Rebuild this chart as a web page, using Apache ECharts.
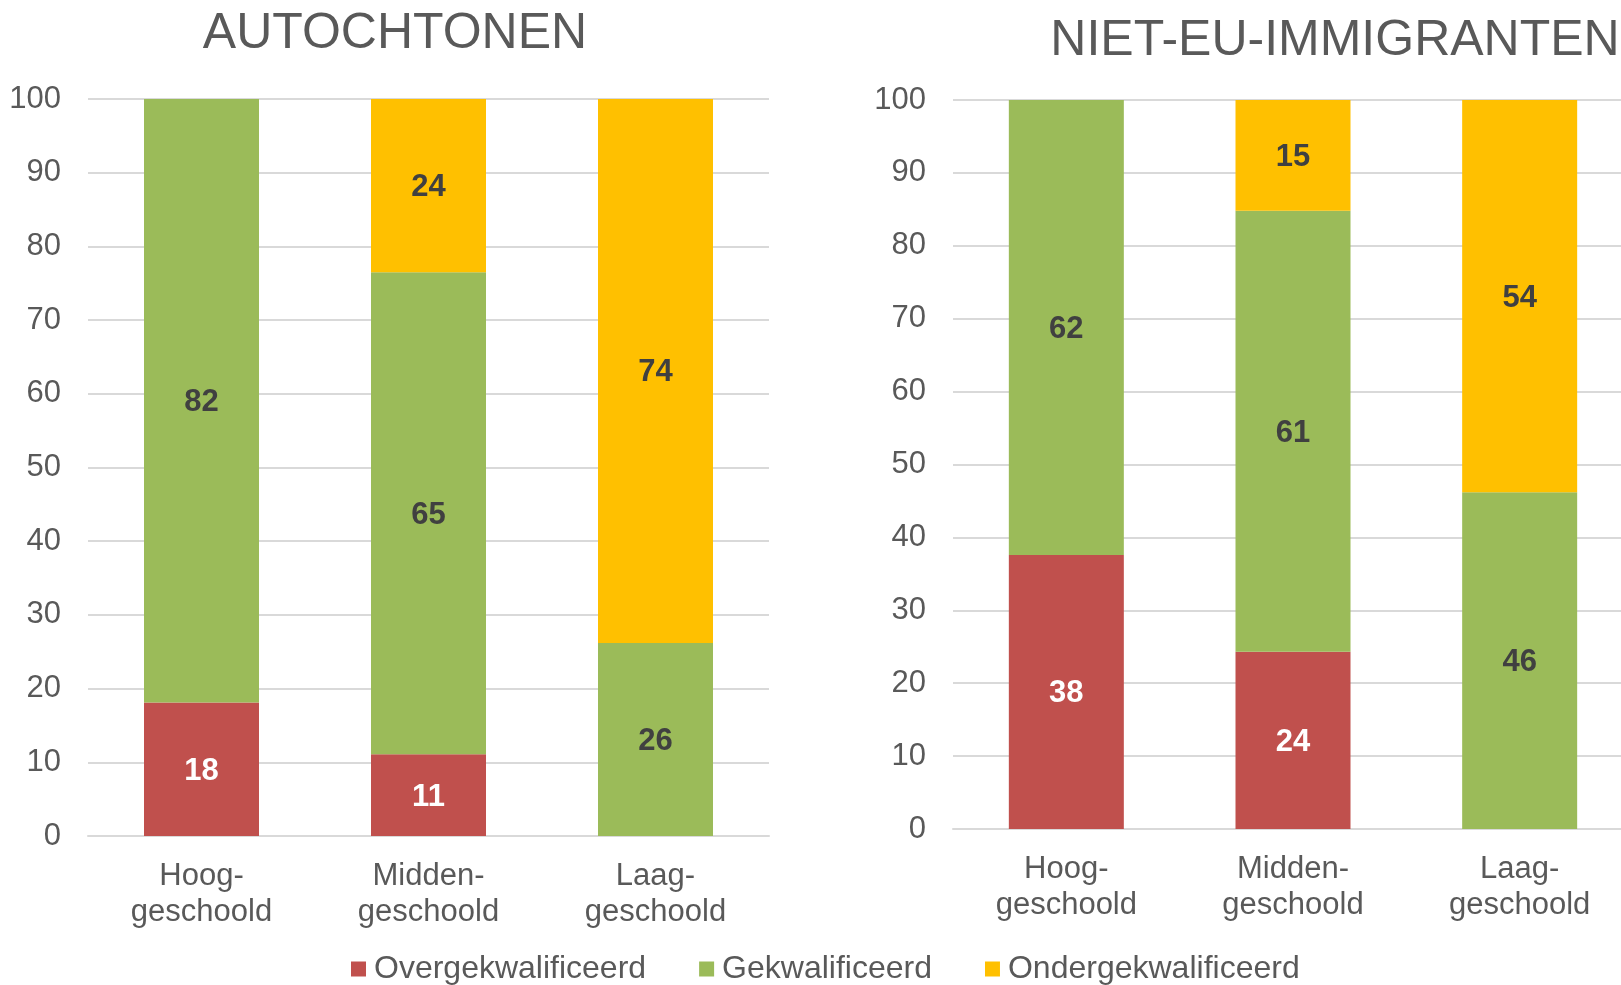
<!DOCTYPE html>
<html>
<head>
<meta charset="utf-8">
<script src="https://cdn.jsdelivr.net/npm/echarts@6/dist/echarts.min.js"></script>
<style>
html,body{margin:0;padding:0;background:#fff;overflow:hidden;}
#chart{width:1640px;height:985px;}
</style>
</head>
<body>
<div id="chart"></div>
<script>
// Data
const categories = ['Hoog-\ngeschoold', 'Midden-\ngeschoold', 'Laag-\ngeschoold'];
const seriesNames = ['Overgekwalificeerd', 'Gekwalificeerd', 'Ondergekwalificeerd'];
const titles = ['AUTOCHTONEN', 'NIET-EU-IMMIGRANTEN'];
// Autochtonen
const autoOver  = [18.1, 11.1, 0];
const autoGek   = [81.9, 65.4, 26.2];
const autoOnder = [0, 23.5, 73.8];
// Niet-EU-immigranten
const immOver  = [37.6, 24.3, 0];
const immGek   = [62.4, 60.5, 46.2];
const immOnder = [0, 15.2, 53.8];
const yTicks = [0, 10, 20, 30, 40, 50, 60, 70, 80, 90, 100];

const colors = ['#C0504D', '#9BBB59', '#FFC000'];
const labelColors = ['#FFFFFF', '#404040', '#404040'];
const FONT = '"Liberation Sans", Arial, sans-serif';
const TXT = '#595959';

const chart = echarts.init(document.getElementById('chart'), null, {renderer: 'canvas'});

function xAxis(gi) {
  return {
    type: 'category', gridIndex: gi, data: categories,
    axisLine: {show: true, lineStyle: {color: '#D9D9D9', width: 2}},
    axisTick: {show: false},
    axisLabel: {color: TXT, fontFamily: FONT, fontSize: 31, lineHeight: 36, margin: 22, interval: 0}
  };
}
function yAxis(gi) {
  return {
    type: 'value', gridIndex: gi, min: yTicks[0], max: yTicks[yTicks.length - 1], interval: 10,
    axisLine: {show: false}, axisTick: {show: false},
    splitLine: {lineStyle: {color: '#D9D9D9', width: 2}},
    axisLabel: {color: TXT, fontFamily: FONT, fontSize: 31, margin: 27, padding: [8, 0, 0, 0]}
  };
}
function mk(name, data, idx, gi) {
  return {
    name: name, type: 'bar', stack: 'g' + gi, xAxisIndex: gi, yAxisIndex: gi,
    data: data, barWidth: 115,
    itemStyle: {color: colors[idx]},
    label: {
      show: true, position: 'inside', color: labelColors[idx], offset: [0, 2],
      fontFamily: FONT, fontSize: 31, fontWeight: 'bold',
      formatter: p => p.value ? String(Math.round(p.value)) : ''
    },
    emphasis: {disabled: true}
  };
}

chart.setOption({
  animation: false,
  backgroundColor: '#fff',
  title: [
    {text: titles[0], left: 390, top: 4, textAlign: 'center',
     textStyle: {color: TXT, fontFamily: FONT, fontSize: 50, fontWeight: 'normal'}},
    {text: titles[1], left: 1330, top: 11, textAlign: 'center',
     textStyle: {color: TXT, fontFamily: FONT, fontSize: 50, fontWeight: 'normal'}}
  ],
  legend: {
    data: seriesNames, left: 351, top: 952, icon: 'rect', padding: 0,
    itemWidth: 15, itemHeight: 15, itemGap: 53,
    textStyle: {color: TXT, fontFamily: FONT, fontSize: 32, lineHeight: 34, padding: [0, 0, 0, 3]},
    selectedMode: false
  },
  grid: [
    {left: 88, top: 99, width: 681, height: 737},
    {left: 953, top: 100, width: 680, height: 729}
  ],
  xAxis: [xAxis(0), xAxis(1)],
  yAxis: [yAxis(0), yAxis(1)],
  series: [
    mk(seriesNames[0], autoOver, 0, 0),
    mk(seriesNames[1], autoGek, 1, 0),
    mk(seriesNames[2], autoOnder, 2, 0),
    mk(seriesNames[0], immOver, 0, 1),
    mk(seriesNames[1], immGek, 1, 1),
    mk(seriesNames[2], immOnder, 2, 1)
  ]
});
</script>
</body>
</html>
